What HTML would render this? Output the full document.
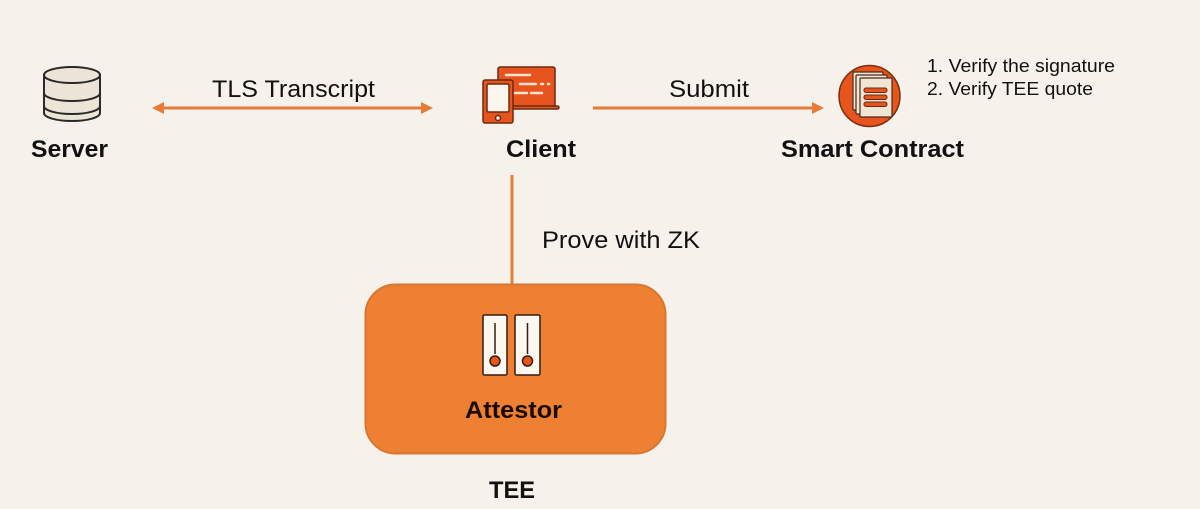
<!DOCTYPE html>
<html><head><meta charset="utf-8"><style>
html,body{margin:0;padding:0;background:#f6f2eb;}
svg{display:block;}
text{font-family:"Liberation Sans",Arial,sans-serif;}
</style></head><body>
<svg width="1200" height="509" viewBox="0 0 1200 509" xmlns="http://www.w3.org/2000/svg">
<rect width="1200" height="509" fill="#f6f2eb"/>
<!-- Server icon -->
<g stroke="#2a2a2a" stroke-width="2" fill="#ece4d6">
<path d="M44 75 L44 113 A28 8 0 0 0 100 113 L100 75"/>
<ellipse cx="72" cy="75" rx="28" ry="8"/>
<path d="M44 93 A28 8 0 0 0 100 93" fill="none"/>
<path d="M44 106 A28 8 0 0 0 100 106" fill="none"/>
</g>
<text x="31" y="157" font-size="24" font-weight="bold" textLength="77" lengthAdjust="spacingAndGlyphs" fill="#111">Server</text>
<!-- TLS arrow -->
<line x1="160" y1="108" x2="425" y2="108" stroke="#e57c3a" stroke-width="3"/>
<polygon points="152,108 164,102 164,114" fill="#e57c3a"/>
<polygon points="433,108 421,102 421,114" fill="#e57c3a"/>
<text x="212" y="97" font-size="24" textLength="163" lengthAdjust="spacingAndGlyphs" fill="#111">TLS Transcript</text>
<!-- Client icon -->
<g stroke="#6b2a10" stroke-width="1.5">
<rect x="498" y="67" width="57" height="40" rx="2" fill="#e8541e"/>
<rect x="508" y="106" width="51" height="3" rx="1.5" fill="#e8541e"/>
<rect x="483" y="80" width="30" height="43" rx="2" fill="#e8541e"/>
<rect x="487" y="84" width="22" height="28" rx="1.5" fill="#fbf5ee"/>
<circle cx="498" cy="118" r="2.5" fill="#fbf5ee"/>
</g>
<g stroke="#f6e2d0" stroke-width="2.5" stroke-linecap="round">
<line x1="506" y1="75" x2="530" y2="75"/>
<line x1="520" y1="84" x2="536" y2="84"/>
<line x1="541" y1="84" x2="543" y2="84"/>
<line x1="548" y1="84" x2="549" y2="84"/>
<line x1="515" y1="93" x2="527" y2="93"/>
<line x1="531" y1="93" x2="542" y2="93"/>
</g>
<text x="506" y="157" font-size="24" font-weight="bold" textLength="70" lengthAdjust="spacingAndGlyphs" fill="#111">Client</text>
<!-- Submit arrow -->
<line x1="593" y1="108" x2="815" y2="108" stroke="#e57c3a" stroke-width="3"/>
<polygon points="824,108 812,102 812,114" fill="#e57c3a"/>
<text x="669" y="97" font-size="24" textLength="80" lengthAdjust="spacingAndGlyphs" fill="#111">Submit</text>
<!-- Smart contract icon -->
<circle cx="869.5" cy="96" r="30.5" fill="#e8541e" stroke="#7a2e10" stroke-width="1.5"/>
<g stroke="#4a2a1a" stroke-width="1.2" fill="#f1e6d6">
<rect x="853" y="72" width="30" height="38" rx="1"/>
<rect x="856" y="75" width="31" height="39" rx="1"/>
<rect x="860" y="78" width="32" height="39" rx="1"/>
</g>
<g stroke="#6b2a10" stroke-width="1" fill="#e8541e">
<rect x="864" y="88" width="23" height="4.5" rx="2"/>
<rect x="864" y="95" width="23" height="4.5" rx="2"/>
<rect x="864" y="102" width="23" height="4.5" rx="2"/>
</g>
<text x="781" y="157" font-size="24" font-weight="bold" textLength="183" lengthAdjust="spacingAndGlyphs" fill="#111">Smart Contract</text>
<text x="927" y="72" font-size="18" textLength="188" lengthAdjust="spacingAndGlyphs" fill="#111">1. Verify the signature</text>
<text x="927" y="95" font-size="18" textLength="166" lengthAdjust="spacingAndGlyphs" fill="#111">2. Verify TEE quote</text>
<!-- Vertical line -->
<line x1="512" y1="175" x2="512" y2="286" stroke="#e57c3a" stroke-width="3"/>
<text x="542" y="248" font-size="24" textLength="158" lengthAdjust="spacingAndGlyphs" fill="#111">Prove with ZK</text>
<!-- Attestor box -->
<rect x="365.5" y="284.5" width="300" height="169" rx="30" fill="#ed8033" stroke="#d9752f" stroke-width="2"/>
<g stroke="#3a1a0a" stroke-width="1.5">
<rect x="483" y="315" width="24" height="60" rx="1.5" fill="#fbf7f1"/>
<rect x="515" y="315" width="25" height="60" rx="1.5" fill="#fbf7f1"/>
<line x1="495" y1="323" x2="495" y2="354"/>
<line x1="527.5" y1="323" x2="527.5" y2="354"/>
<circle cx="495" cy="361" r="5" fill="#e8541e"/>
<circle cx="527.5" cy="361" r="5" fill="#e8541e"/>
</g>
<text x="465" y="418" font-size="24" font-weight="bold" textLength="97" lengthAdjust="spacingAndGlyphs" fill="#1a0a00">Attestor</text>
<text x="489" y="498" font-size="24" font-weight="bold" textLength="46" lengthAdjust="spacingAndGlyphs" fill="#111">TEE</text>
</svg>
</body></html>
